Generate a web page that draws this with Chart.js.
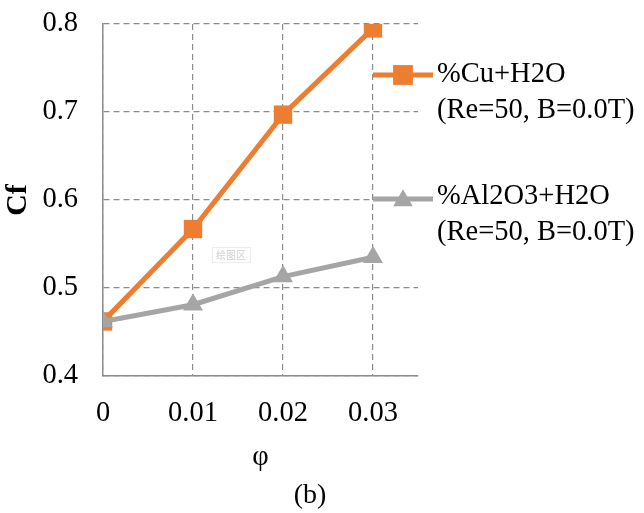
<!DOCTYPE html>
<html>
<head>
<meta charset="utf-8">
<script src="https://cdn.jsdelivr.net/npm/chart.js@4.4.1/dist/chart.umd.min.js"></script>
<style>
  html, body { margin: 0; padding: 0; background: #fff; }
  #wrap { width: 644px; height: 513px; position: relative; }
</style>
</head>
<body>
<div id="wrap"><canvas id="cf-chart"></canvas></div>
<script>
// volume fraction phi and skin friction Cf for each nanofluid
var phi = [0, 0.01, 0.02, 0.03];
var cfCu = [0.462, 0.567, 0.697, 0.795];
var cfAl2O3 = [0.462, 0.481, 0.513, 0.535];
var seriesNames = [
  ['%Cu+H2O', '(Re=50, B=0.0T)'],
  ['%Al2O3+H2O', '(Re=50, B=0.0T)']
];
var yTicks = [0.4, 0.5, 0.6, 0.7, 0.8];

var serif = '"Liberation Serif", "Times New Roman", serif';
var gridGrey = '#8c8c8c';

function pairs(xs, ys) {
  return xs.map(function(x, i) { return { x: x, y: ys[i] }; });
}

// legend drawn to the right of the plot, two text lines per entry
var sideLegend = {
  id: 'sideLegend',
  afterDraw: function(chart) {
    var ctx = chart.ctx;
    var rows = [[75, 75], [199, 197]];
    ctx.save();
    chart.data.datasets.forEach(function(ds, i) {
      var y = rows[i][0];
      ctx.strokeStyle = ds.borderColor;
      ctx.lineWidth = ds.borderWidth;
      ctx.beginPath();
      ctx.moveTo(373, y);
      ctx.lineTo(433, y);
      ctx.stroke();
      ctx.fillStyle = ds.backgroundColor;
      Chart.helpers.drawPoint(ctx, {
        pointStyle: ds.pointStyle,
        radius: ds.pointStyle === 'rect' ? 14 : 11.3,
        rotation: 0,
        borderWidth: 0
      }, 403, y + (ds.pointStyle === 'rect' ? 0 : 1.5));
      ctx.fillStyle = '#000';
      ctx.font = '28.5px ' + serif;
      ctx.textBaseline = 'middle';
      ctx.textAlign = 'left';
      var ty = rows[i][1];
      ctx.fillText(seriesNames[i][0], 437, ty);
      ctx.fillText(seriesNames[i][1], 437, ty + 36);
    });
    // panel label
    ctx.font = '28px ' + serif;
    ctx.textAlign = 'center';
    ctx.fillText('(b)', 310, 496);
    // leftover plot-area tag
    ctx.font = '10px "Noto Sans CJK SC", sans-serif';
    ctx.fillStyle = '#d0d0d0';
    ctx.fillText('绘图区', 231, 255);
    ctx.strokeStyle = '#ececec';
    ctx.lineWidth = 1;
    ctx.strokeRect(212.5, 247.5, 38, 15);
    ctx.restore();
  }
};

var ctx = document.getElementById('cf-chart').getContext('2d');
var cfChart = new Chart(ctx, {
  type: 'line',
  data: {
    datasets: [{
      label: seriesNames[0].join(' '),
      data: pairs(phi, cfCu),
      borderColor: '#ed7d31',
      backgroundColor: '#ed7d31',
      borderWidth: 5,
      pointStyle: 'rect',
      pointRadius: 13,
      pointBorderWidth: 0,
      pointHoverRadius: 13,
      order: 2
    }, {
      label: seriesNames[1].join(' '),
      data: pairs(phi, cfAl2O3),
      borderColor: '#a5a5a5',
      backgroundColor: '#a5a5a5',
      borderWidth: 5,
      pointStyle: 'triangle',
      pointRadius: 11.5,
      pointBorderWidth: 0,
      pointHoverRadius: 11.5,
      order: 1
    }]
  },
  options: {
    responsive: true,
    maintainAspectRatio: false,
    animation: false,
    layout: { padding: { top: 24, right: 226, bottom: 0, left: 0 } },
    plugins: {
      legend: { display: false },
      tooltip: { enabled: false }
    },
    scales: {
      x: {
        type: 'linear',
        min: 0,
        max: 0.035,
        afterBuildTicks: function(scale) {
          scale.ticks = phi.map(function(v) { return { value: v }; });
        },
        afterFit: function(scale) {
          scale.height = 137;
          scale.paddingLeft = 0;
          scale.paddingRight = 0;
        },
        ticks: {
          padding: 20,
          color: '#000',
          font: { family: serif, size: 28.5 },
          callback: function(v) { return String(v); }
        },
        grid: { color: gridGrey, lineWidth: 1.2, drawTicks: false },
        border: { display: true, color: gridGrey, width: 1.5, dash: [6, 4] },
        title: {
          display: true,
          text: 'φ',
          color: '#000',
          font: { family: serif, size: 28.5 },
          padding: { top: 0, bottom: 38 }
        }
      },
      y: {
        min: 0.4,
        max: 0.8,
        afterBuildTicks: function(scale) {
          scale.ticks = yTicks.map(function(v) { return { value: v }; });
        },
        afterFit: function(scale) {
          scale.width = 103;
          scale.paddingTop = 0;
          scale.paddingBottom = 0;
        },
        ticks: {
          padding: 25,
          color: '#000',
          font: { family: serif, size: 28.5 },
          callback: function(v) { return v.toFixed(1); }
        },
        grid: { color: gridGrey, lineWidth: 1.2, drawTicks: false },
        border: { display: true, color: gridGrey, width: 1.5, dash: [6, 4] },
        title: {
          display: true,
          text: 'Cf',
          color: '#000',
          font: { family: serif, size: 30, weight: 'bold' },
          align: 'center',
          padding: { top: 0, bottom: 0 }
        }
      }
    }
  },
  plugins: [sideLegend]
});
</script>
</body>
</html>
